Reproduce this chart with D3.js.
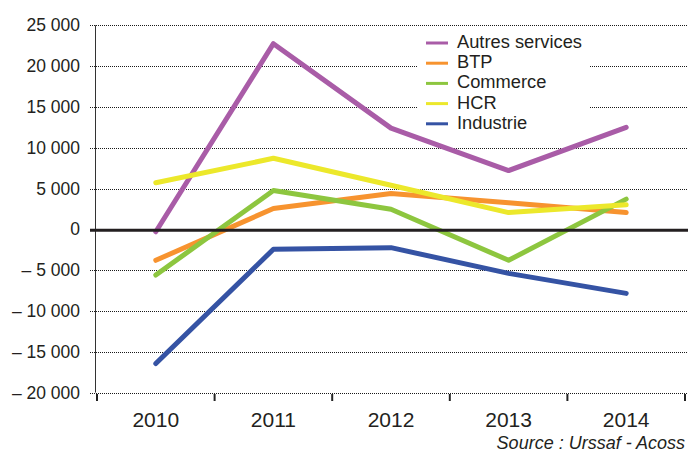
<!DOCTYPE html>
<html>
<head>
<meta charset="utf-8">
<script src="https://cdn.jsdelivr.net/npm/d3@7"></script>
<style>
  body { margin: 0; background: #fff; }
  text { font-family: "Liberation Sans", Arial, sans-serif; fill: #231f20; }
</style>
</head>
<body>
<div id="chart"></div>
<script>
// données
const years = ["2010", "2011", "2012", "2013", "2014"];
const seriesNames = ["Autres services", "BTP", "Commerce", "HCR", "Industrie"];
const seriesColors = ["#a95ca7", "#f7932f", "#8dc63f", "#ece82b", "#3553a4"];
const autresServices = [-300, 22750, 12400, 7200, 12500];
const btp = [-3800, 2550, 4400, 3250, 2050];
const commerce = [-5600, 4750, 2450, -3800, 3700];
const hcr = [5700, 8700, 5400, 2050, 3000];
const industrie = [-16450, -2450, -2250, -5400, -7850];
const yTicks = [25000, 20000, 15000, 10000, 5000, 0, -5000, -10000, -15000, -20000];

const series = [autresServices, btp, commerce, hcr, industrie].map((values, i) => ({
  name: seriesNames[i],
  color: seriesColors[i],
  values,
}));

const width = 688, height = 452;
const svg = d3.select("#chart").append("svg")
  .attr("width", width)
  .attr("height", height);

// échelles
const x = d3.scaleBand().domain(years).range([97, 685]);
const y = d3.scaleLinear().domain([-20000, 25000]).range([392.5, 25.3]);

// format "25 000", "– 5 000"
const fmt = v => {
  const s = d3.format(",")(Math.abs(v)).replace(/,/g, " ");
  return v < 0 ? "\u2013 " + s : s;
};

// grille pointillée
svg.append("g")
  .selectAll("line")
  .data(yTicks.filter(d => d !== 0))
  .join("line")
  .attr("x1", 90)
  .attr("x2", width)
  .attr("y1", d => Math.round(y(d)) + 0.5)
  .attr("y2", d => Math.round(y(d)) + 0.5)
  .attr("stroke", "#1a1a1a")
  .attr("stroke-width", 1)
  .attr("stroke-dasharray", "1,1");

// légende (fond blanc par-dessus la grille)
const legend = svg.append("g");
legend.append("rect")
  .attr("x", 417).attr("y", 29)
  .attr("width", 173).attr("height", 106)
  .attr("fill", "#fff");

// axe vertical
svg.append("line")
  .attr("x1", 95.5).attr("x2", 95.5)
  .attr("y1", y(25000)).attr("y2", y(-20000))
  .attr("stroke", "#333").attr("stroke-width", 1);

// libellés axe Y
svg.append("g")
  .selectAll("text")
  .data(yTicks)
  .join("text")
  .attr("x", 80)
  .attr("y", d => y(d) + 6)
  .attr("text-anchor", "end")
  .style("font-size", "17.5px")
  .text(fmt);

// ticks axe X
svg.append("g")
  .selectAll("line")
  .data(years.concat(["end"]))
  .join("line")
  .attr("x1", (d, i) => x.range()[0] + i * x.step())
  .attr("x2", (d, i) => x.range()[0] + i * x.step())
  .attr("y1", 394)
  .attr("y2", 401)
  .attr("stroke", "#222")
  .attr("stroke-width", 2);

svg.append("g")
  .selectAll("text")
  .data(years)
  .join("text")
  .attr("x", d => x(d) + x.bandwidth() / 2)
  .attr("y", 427)
  .attr("text-anchor", "middle")
  .style("font-size", "21px")
  .text(d => d);

// courbes
const line = d3.line()
  .x((d, i) => x(years[i]) + x.bandwidth() / 2)
  .y(d => y(d));

svg.append("g")
  .selectAll("path")
  .data(series)
  .join("path")
  .attr("d", d => line(d.values))
  .attr("fill", "none")
  .attr("stroke", d => d.color)
  .attr("stroke-width", 5)
  .attr("stroke-linejoin", "round")
  .attr("stroke-linecap", "round");

// ligne du zéro
svg.append("line")
  .attr("x1", 90).attr("x2", width)
  .attr("y1", y(0) + 1).attr("y2", y(0) + 1)
  .attr("stroke", "#231f20")
  .attr("stroke-width", 3);

// entrées de la légende
const items = legend.selectAll("g.item")
  .data(series)
  .join("g")
  .attr("class", "item")
  .attr("transform", (d, i) => `translate(426, ${43 + i * 20.2})`);

items.append("line")
  .attr("x1", 0).attr("x2", 22)
  .attr("stroke", d => d.color)
  .attr("stroke-width", 3);

items.append("text")
  .attr("x", 31)
  .attr("y", 5)
  .style("font-size", "18.3px")
  .text(d => d.name);

// source
svg.append("text")
  .attr("x", 685)
  .attr("y", 449)
  .attr("text-anchor", "end")
  .style("font-size", "18px")
  .style("font-style", "italic")
  .text("Source : Urssaf - Acoss");
</script>
</body>
</html>
